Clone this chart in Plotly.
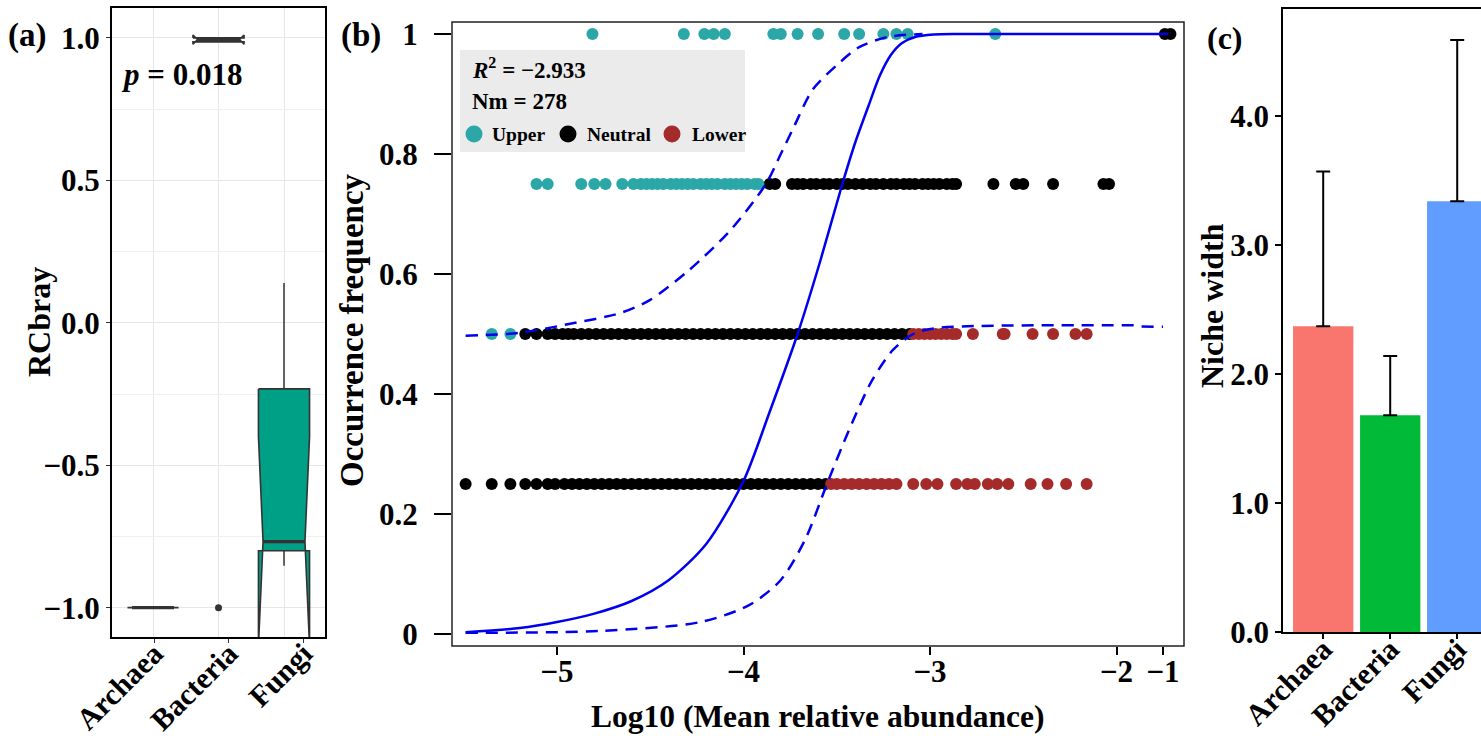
import plotly.graph_objects as go

W, H = 1481, 744
FONT = "Liberation Serif"

# ---------------- panel (a): RCbray notched boxplots ----------------
groups = ["Archaea", "Bacteria", "Fungi"]
box_pos = [1, 2, 3]
box_q1 = [-1.0, 0.986, -0.800]
box_med = [-1.0, 0.994, -0.768]
box_q3 = [-1.0, 1.000, -0.232]
notch_lo = [-1.0, 0.978, -1.136]
notch_hi = [-1.0, 1.010, -0.400]
whisk_lo = [-1.0, 0.986, -0.853]
whisk_hi = [-1.0, 1.000, 0.140]
outlier_pos = [2]
outlier_val = [-1.0]
label_pos_a = [1.02, 2.16, 3.30]

# ---------------- panel (b): neutral community model ----------------
upper_x = [-4.81, -4.32, -4.21, -4.16, -4.10, -3.84, -3.80, -3.71, -3.60, -3.46,
           -3.38, -3.25, -3.18, -3.12, -2.65,
           -5.11, -5.05, -4.87, -4.80, -4.74, -4.65, -4.59, -4.55, -4.52, -4.49,
           -4.46, -4.43, -4.39, -4.36, -4.33, -4.30, -4.27, -4.23, -4.20, -4.17,
           -4.14, -4.10, -4.07, -4.04, -4.01, -3.98, -3.94, -3.92,
           -5.35, -5.25]
upper_y = [1.0] * 15 + [0.75] * 28 + [0.5] * 2

neutral_x = [-0.99, -0.96,
             -3.86, -3.83, -3.74, -3.71, -3.68, -3.64, -3.61, -3.57, -3.54, -3.50,
             -3.47, -3.44, -3.40, -3.36, -3.32, -3.29, -3.25, -3.21, -3.18, -3.14,
             -3.11, -3.08, -3.04, -3.01, -2.98, -2.95, -2.91, -2.88, -2.86, -2.66,
             -2.54, -2.50, -2.34, -2.07, -2.04,
             -5.17, -5.11, -5.05, -5.01, -4.97, -4.94, -4.91, -4.87, -4.83, -4.79,
             -4.75, -4.71, -4.67, -4.63, -4.59, -4.55, -4.51, -4.47, -4.43, -4.39,
             -4.35, -4.31, -4.27, -4.23, -4.19, -4.15, -4.11, -4.07, -4.03, -3.99,
             -3.95, -3.91, -3.87, -3.83, -3.79, -3.75, -3.71, -3.67, -3.63, -3.59,
             -3.55, -3.51, -3.47, -3.43, -3.39, -3.35, -3.31, -3.27, -3.23, -3.19,
             -3.15, -3.11,
             -5.49, -5.35, -5.25, -5.17, -5.11, -5.05, -5.01, -4.96, -4.92, -4.88,
             -4.84, -4.80, -4.76, -4.72, -4.68, -4.64, -4.60, -4.56, -4.52, -4.48,
             -4.44, -4.40, -4.36, -4.32, -4.28, -4.24, -4.20, -4.16, -4.12, -4.08,
             -4.04, -4.00, -3.96, -3.92, -3.88, -3.84, -3.80, -3.76, -3.72, -3.68,
             -3.64, -3.60, -3.56]
neutral_y = [1.0] * 2 + [0.75] * 35 + [0.5] * 52 + [0.25] * 43

lower_x = [-3.09, -3.06, -3.03, -3.00, -2.97, -2.94, -2.91, -2.88, -2.86, -2.77,
           -2.61, -2.60, -2.45, -2.34, -2.22, -2.16,
           -3.53, -3.50, -3.46, -3.42, -3.38, -3.34, -3.30, -3.26, -3.22, -3.18,
           -3.09, -3.02, -2.96, -2.86, -2.80, -2.76, -2.69, -2.64, -2.58, -2.46,
           -2.37, -2.27, -2.16]
lower_y = [0.5] * 16 + [0.25] * 23

fit_x = [-5.49, -5.20, -5.00, -4.80, -4.60, -4.40, -4.20, -4.00, -3.86, -3.71,
         -3.59, -3.47, -3.40, -3.33, -3.27, -3.21, -3.15, -3.08, -2.98, -2.85,
         -0.97]
fit_y = [0.003, 0.010, 0.020, 0.034, 0.055, 0.090, 0.150, 0.255, 0.370, 0.500,
         0.620, 0.750, 0.820, 0.880, 0.930, 0.965, 0.985, 0.995, 0.999, 1.000,
         1.000]

pi_up_x = [-5.49, -5.20, -4.93, -4.66, -4.50, -4.29, -4.07, -3.88, -3.80, -3.73,
           -3.63, -3.50, -3.38, -3.23, -3.04]
pi_up_y = [0.497, 0.502, 0.517, 0.535, 0.557, 0.607, 0.673, 0.750, 0.800, 0.845,
           0.907, 0.948, 0.978, 0.995, 1.000]

pi_lo_x = [-5.49, -4.77, -4.23, -3.97, -3.80, -3.67, -3.55, -3.43, -3.31, -3.20,
           -3.09, -2.96, -1.00]
pi_lo_y = [0.002, 0.005, 0.020, 0.048, 0.090, 0.157, 0.252, 0.343, 0.423, 0.473,
           0.500, 0.510, 0.512]

r2_text = "−2.933"
nm_text = "278"

# ---------------- panel (c): niche width ----------------
niche_mean = [2.37, 1.68, 3.34]
niche_err = [1.20, 0.46, 1.25]
bar_colors = ["#F8766D", "#00BA38", "#619CFF"]

TEAL = "#2AA7A6"
RED = "#A52A2A"
BOX_FILL = "#00A087"
EDGE = "#333333"
BLUE = "#0000EE"

fig = go.Figure()

# boxes
HW, INSET = 0.39, 0.07
for i in range(3):
    x = box_pos[i]
    xs = [x - HW, x - HW, x - HW + INSET, x - HW, x - HW, x + HW, x + HW,
          x + HW - INSET, x + HW, x + HW, x - HW]
    ys = [box_q3[i], notch_hi[i], box_med[i], notch_lo[i], box_q1[i], box_q1[i],
          notch_lo[i], box_med[i], notch_hi[i], box_q3[i], box_q3[i]]
    fig.add_trace(go.Scatter(x=[x, x, None, x, x],
                             y=[box_q3[i], whisk_hi[i], None, box_q1[i], whisk_lo[i]],
                             mode="lines", line=dict(color=EDGE, width=1.5),
                             xaxis="x", yaxis="y", showlegend=False, hoverinfo="skip"))
    fig.add_trace(go.Scatter(x=xs, y=ys, mode="lines", fill="toself",
                             fillcolor=BOX_FILL, line=dict(color=EDGE, width=1.6),
                             xaxis="x", yaxis="y", showlegend=False, hoverinfo="skip"))
    fig.add_trace(go.Scatter(x=[x - HW + INSET, x + HW - INSET],
                             y=[box_med[i], box_med[i]], mode="lines",
                             line=dict(color=EDGE, width=3.2),
                             xaxis="x", yaxis="y", showlegend=False, hoverinfo="skip"))
fig.add_trace(go.Scatter(x=outlier_pos, y=outlier_val, mode="markers",
                         marker=dict(color=EDGE, size=7, symbol="circle"),
                         xaxis="x", yaxis="y", showlegend=False, hoverinfo="skip"))

# neutral model: the abundance axis is broken in two segments (x2 and x5)
for xa in ("x2", "x5"):
    for xs_, ys_, col in [(neutral_x, neutral_y, "black"), (upper_x, upper_y, TEAL),
                          (lower_x, lower_y, RED)]:
        fig.add_trace(go.Scatter(x=xs_, y=ys_, mode="markers",
                                 marker=dict(color=col, size=12, line=dict(width=0)),
                                 xaxis=xa, yaxis="y2", showlegend=False,
                                 hoverinfo="skip"))
    fig.add_trace(go.Scatter(x=fit_x, y=fit_y, mode="lines",
                             line=dict(color=BLUE, width=2.5, shape="spline",
                                       smoothing=0.8),
                             xaxis=xa, yaxis="y2", showlegend=False, hoverinfo="skip"))
    for xs_, ys_ in [(pi_up_x, pi_up_y), (pi_lo_x, pi_lo_y)]:
        fig.add_trace(go.Scatter(x=xs_, y=ys_, mode="lines",
                                 line=dict(color=BLUE, width=2.5, dash="12px,8px",
                                           shape="spline", smoothing=0.8),
                                 xaxis=xa, yaxis="y2", showlegend=False,
                                 hoverinfo="skip"))

# niche width bars
fig.add_trace(go.Bar(x=[1, 2, 3], y=niche_mean, width=0.9,
                     marker=dict(color=bar_colors, line=dict(width=0)),
                     error_y=dict(type="data", symmetric=False, array=niche_err,
                                  arrayminus=[0, 0, 0], color="black", thickness=2,
                                  width=7),
                     xaxis="x3", yaxis="y3", showlegend=False, hoverinfo="skip"))

tickfont = dict(family=FONT, size=31, color="black", weight="bold")
catfont = dict(family=FONT, size=30, color="black", weight="bold")
common = dict(linecolor="black", zeroline=False, ticks="outside", automargin=False)

PX_PER_UNIT = 186.5
B_LEFT, B_BREAK, B_RIGHT = 452, 1140, 1184
x2_lo = -5 + (B_LEFT - 557) / PX_PER_UNIT
x2_hi = -5 + (B_BREAK - 557) / PX_PER_UNIT
x5_lo = -1 - (1163 - B_BREAK) / PX_PER_UNIT
x5_hi = -1 + (B_RIGHT - 1163) / PX_PER_UNIT

fig.update_layout(
    width=W, height=H, autosize=False,
    margin=dict(l=0, r=0, t=0, b=0, autoexpand=False),
    paper_bgcolor="white", plot_bgcolor="white",
    xaxis=dict(domain=[112 / W, 325 / W], range=[0.374, 3.626], anchor="y",
               tickvals=label_pos_a, ticktext=groups, tickangle=-45, tickfont=catfont,
               showgrid=False, showline=True, mirror=True, linewidth=2, ticklen=4,
               tickcolor=EDGE, tickwidth=1, ticklabelstandoff=-19,
               minor=dict(tickvals=[1, 2, 3], showgrid=True, gridcolor="#E6E6E6",
                          gridwidth=1, ticks=""),
               **common),
    yaxis=dict(domain=[1 - 637 / H, 1 - 8 / H], range=[-1.103, 1.105], anchor="x",
               tickvals=[-1, -0.5, 0, 0.5, 1], tickformat=".1f", tickfont=tickfont,
               showgrid=True, gridcolor="#E6E6E6", gridwidth=1,
               minor=dict(tickvals=[-0.75, -0.25, 0.25, 0.75], showgrid=True,
                          gridcolor="#F0F0F0", gridwidth=1, ticks=""),
               showline=True, mirror=True, linewidth=2, ticklen=4, tickcolor=EDGE,
               tickwidth=1, **common),
    xaxis2=dict(domain=[B_LEFT / W, B_BREAK / W], range=[x2_lo, x2_hi], anchor="y2",
                tickvals=[-5, -4, -3, -2], showgrid=False, showline=False,
                ticklen=8, tickwidth=1.5, tickcolor="black", tickfont=tickfont,
                ticklabelstandoff=-10, **common),
    xaxis5=dict(domain=[B_BREAK / W, B_RIGHT / W], range=[x5_lo, x5_hi], anchor="y2",
                tickvals=[-1], showgrid=False, showline=False, tickfont=tickfont,
                ticklen=8, tickwidth=1.5, tickcolor="black",
                ticklabelstandoff=-10, **common),
    yaxis2=dict(domain=[1 - 646 / H, 1 - 22 / H], range=[-0.02, 1.02], anchor="x2",
                tickvals=[0, 0.2, 0.4, 0.6, 0.8, 1], showgrid=False, showline=False,
                ticklen=17, tickwidth=1.5, tickcolor="black", tickfont=tickfont,
                ticklabelstandoff=10, **common),
    xaxis3=dict(domain=[1283 / W, 1.0], range=[0.4, 3.355], anchor="y3",
                tickvals=[1, 2, 3], ticktext=groups, tickangle=-45, showgrid=False,
                showline=True, mirror=True, linewidth=1.5, ticklen=5, tickwidth=1.5,
                tickcolor="black", tickfont=catfont, ticklabelstandoff=-19, **common),
    yaxis3=dict(domain=[1 - 632 / H, 1 - 9 / H], range=[0, 4.83], anchor="x3",
                tickvals=[0, 1, 2, 3, 4], tickformat=".1f", showgrid=False,
                showline=True, mirror=False, linewidth=1.5, ticklen=6, tickwidth=1.5,
                tickcolor="black", tickfont=tickfont, **common),
)


def ann(text, px, py, size, xanchor="center", angle=0):
    return dict(text=text, x=px / W, y=1 - py / H, xref="paper", yref="paper",
                xanchor=xanchor, yanchor="middle", showarrow=False, textangle=angle,
                font=dict(family=FONT, size=size, color="black", weight="bold"))


annotations = [
    ann("(a)", 6, 36, 33, "left"),
    ann("(b)", 339, 36, 33, "left"),
    ann("(c)", 1205, 38, 32, "left"),
    ann("RCbray", 39, 322, 32, angle=-90),
    ann("Occurrence frequency", 352, 330, 33, angle=-90),
    ann("Log10 (Mean relative abundance)", 818, 716, 31.5),
    ann("Niche width", 1212, 306, 32, angle=-90),
    ann("<i>p</i> = 0.018", 119, 74, 31, "left"),
    ann("<i>R</i><sup>2</sup> = " + r2_text, 470, 68, 23, "left"),
    ann("Nm = " + nm_text, 470, 101, 23, "left"),
    ann("Upper", 490, 134, 19.5, "left"),
    ann("Neutral", 585, 134, 19.5, "left"),
    ann("Lower", 690, 134, 19.5, "left"),
]
fig.update_layout(annotations=annotations)

shapes = [
    dict(type="rect", xref="paper", yref="paper", x0=460 / W, x1=745 / W,
         y0=1 - 152 / H, y1=1 - 50 / H, fillcolor="#EBEBEB",
         line=dict(width=0), layer="below"),
    # frame of panel (b)
    dict(type="rect", xref="paper", yref="paper", x0=B_LEFT / W, x1=B_RIGHT / W,
         y0=1 - 646 / H, y1=1 - 22 / H, line=dict(color="#222222", width=1.5),
         fillcolor="rgba(0,0,0,0)", layer="above"),
]
for cx, col in [(474, TEAL), (568, "black"), (672, RED)]:
    shapes.append(dict(type="circle", xref="paper", yref="paper",
                       xsizemode="pixel", ysizemode="pixel",
                       xanchor=cx / W, yanchor=1 - 134 / H,
                       x0=-8.5, x1=8.5, y0=-8.5, y1=8.5,
                       fillcolor=col, line=dict(width=0)))
fig.update_layout(shapes=shapes)

fig.write_html("out.html")
